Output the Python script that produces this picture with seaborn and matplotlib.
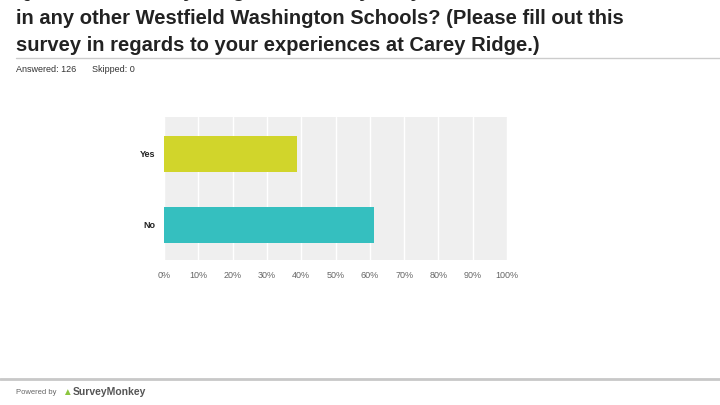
import matplotlib
matplotlib.use("Agg")
import matplotlib.pyplot as plt
import seaborn as sns
import pandas as pd

# survey answers (share of respondents, %)
answers = ["Yes", "No"]
shares = [38.89, 61.11]
bar_colors = ["#d1d52b", "#35bfbf"]
tick_values = list(range(0, 101, 10))
tick_labels = [f"{v}%" for v in tick_values]

title_lines = [
    "Q7: Besides Carey Ridge Elementary, do you have students",
    "in any other Westfield Washington Schools? (Please fill out this",
    "survey in regards to your experiences at Carey Ridge.)",
]

df = pd.DataFrame({"Answer": answers, "Share": shares})

sns.set_style("white")
plt.rcParams["font.family"] = ["Liberation Sans", "DejaVu Sans"]

fig = plt.figure(figsize=(7.2, 4.05), dpi=100)
ax = fig.add_axes([164 / 720, 1 - 260 / 405, 343 / 720, 143 / 405])

sns.barplot(data=df, x="Share", y="Answer", hue="Answer", palette=bar_colors,
            width=0.51, saturation=1, linewidth=0, legend=False, ax=ax, zorder=3)

ax.set_facecolor("#efefef")
ax.set_xlim(0, 100)
ax.set_ylim(1.5, -0.52)
ax.set_xticks(tick_values)
ax.set_xticklabels(tick_labels, fontsize=6.5, color="#666666")
ax.tick_params(axis="y", labelsize=6.5, labelcolor="#222222", length=0, pad=6)
ax.tick_params(axis="x", length=0, pad=8)
for lbl in ax.get_yticklabels():
    lbl.set_fontweight("bold")
ax.grid(axis="x", color="white", linewidth=1.0, zorder=0)
ax.set_axisbelow(True)
ax.set_xlabel("")
ax.set_ylabel("")
for s in ax.spines.values():
    s.set_visible(False)

# title (first line runs off the top of the slide, as in the original)
for i, line in enumerate(title_lines):
    fig.text(16 / 720, 1 - (-3 + 27 * i) / 405, line, fontsize=14.5,
             fontweight="bold", color="#222222", ha="left", va="baseline")

fig.add_artist(plt.Line2D([16 / 720, 1], [1 - 58 / 405] * 2, color="#cccccc", linewidth=1))
fig.text(16 / 720, 1 - 70 / 405, "Answered: 126", fontsize=6.5, color="#333333", va="center")
fig.text(92 / 720, 1 - 70 / 405, "Skipped: 0", fontsize=6.5, color="#333333", va="center")

# footer
fig.add_artist(plt.Line2D([0, 1], [1 - 379 / 405] * 2, color="#c8c8c8", linewidth=2))
fig.text(16 / 720, 1 - 392 / 405, "Powered by", fontsize=5.5, color="#666666", va="center")
fig.text(62 / 720, 1 - 392 / 405, "\u25b2", fontsize=7, color="#8cc63f", va="center")
fig.text(73 / 720, 1 - 392 / 405, "SurveyMonkey", fontsize=7.5, color="#555555",
         fontweight="bold", va="center")

fig.savefig("out.png", dpi=100)
